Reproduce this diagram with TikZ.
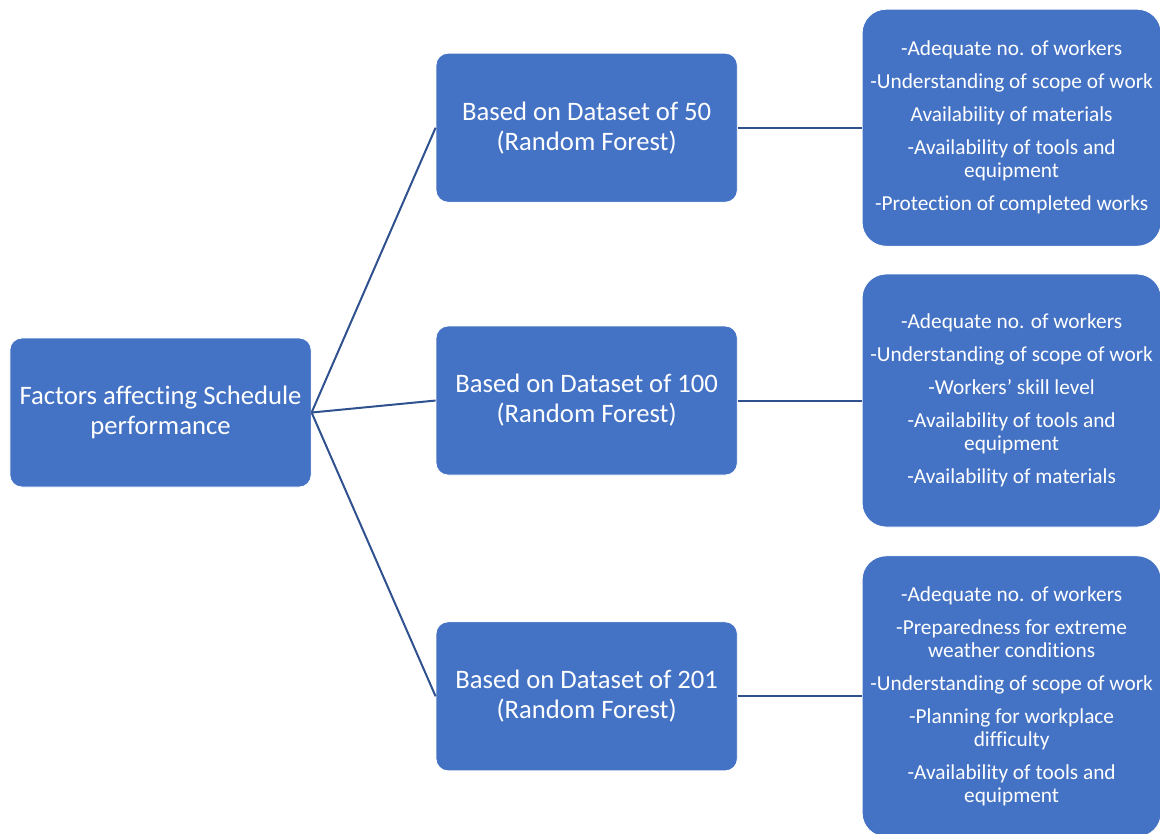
\documentclass[tikz,border=0pt]{standalone}
\usepackage{fontspec}
\setmainfont{Carlito}[Ligatures=NoCommon]
\usetikzlibrary{positioning}
\definecolor{boxblue}{HTML}{4472C4}
\definecolor{lineblue}{HTML}{2F528F}
\begin{document}
\begin{tikzpicture}[node distance=93pt,
  b/.style={draw=white, line width=0.6pt, fill=boxblue, text=white, align=center,
    rounded corners=9pt, minimum width=226pt, minimum height=111.75pt,
    font=\fontsize{20}{22.5}\selectfont},
  r/.style={b, rounded corners=18pt, minimum width=224.25pt,
    font=\fontsize{16}{17.25}\selectfont},
  l/.style={draw=lineblue, line width=1.5pt}]
        \useasboundingbox (-120.4pt,-316.1pt) rectangle (749.6pt,309.4pt);

        \node[b] (f) {Factors affecting Schedule\\performance};
        \node[b, right=of f, yshift=9pt] (d2) {Based on Dataset of 100\\(Random Forest)};
        \node[b, above=92.25pt of d2] (d1) {Based on Dataset of 50\\(Random Forest)};
        \node[b, below=109.5pt of d2] (d3) {Based on Dataset of 201\\(Random Forest)};

        \node[r, right=of d1, minimum height=177.75pt] (r1) {-Adequate no. of workers\\[7.5pt]
          -Understanding of scope of work\\[7.5pt] Availability of materials\\[7.5pt]
          -Availability of tools and\\equipment\\[7.5pt] -Protection of completed works};
        \node[r, right=of d2, minimum height=189.75pt] (r2) {-Adequate no. of workers\\[7.5pt]
          -Understanding of scope of work\\[7.5pt] -Workers' skill level\\[7.5pt]
          -Availability of tools and\\equipment\\[7.5pt] -Availability of materials};
        \node[r, right=of d3, minimum height=210.75pt] (r3) {-Adequate no. of workers\\[7.5pt]
          -Preparedness for extreme\\weather conditions\\[7.5pt]
          -Understanding of scope of work\\[7.5pt] -Planning for workplace\\difficulty\\[7.5pt]
          -Availability of tools and\\equipment};

        \path[l] (f.east) edge (d1.west)
        (f.east) edge (d2.west)
        (f.east) edge (d3.west)
        (d1.east) edge (r1.west)
        (d2.east) edge (r2.west)
        (d3.east) edge (r3.west);
      \end{tikzpicture}
\end{document}
